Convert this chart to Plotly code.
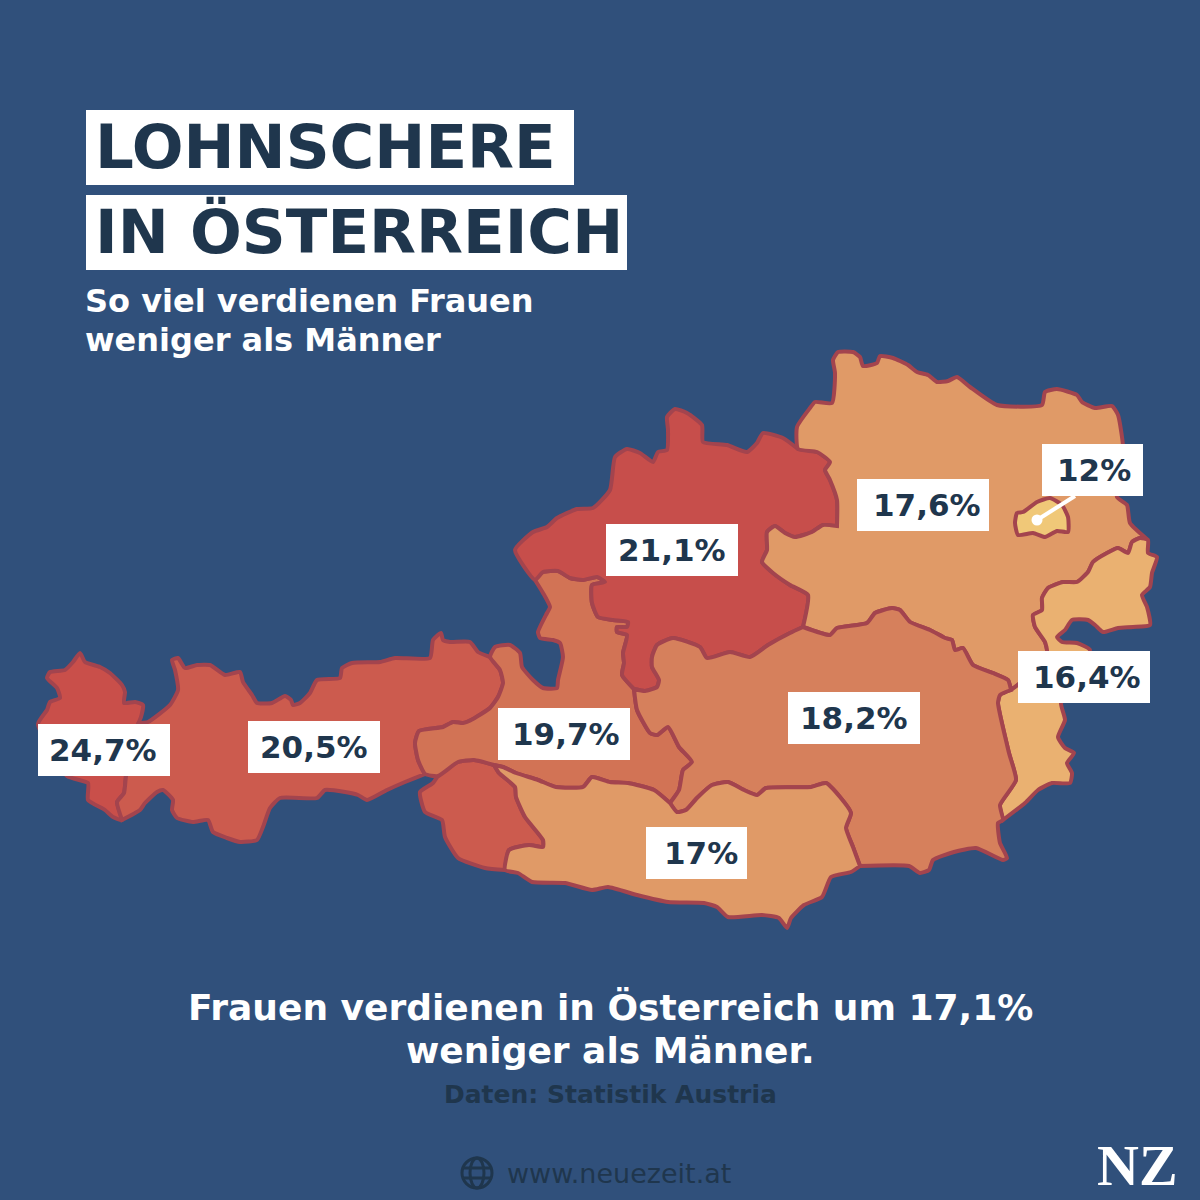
import plotly.graph_objects as go

# map outline pieces (shared borders are used by both states)
vbg_outer = [(122,820),(113,817),(105,810),(88,800),(88,783),(67,776),(38,724),(47,710),(50,702),(60,698),(57,688),(47,678),(50,672),(65,670),(73,662),(80,653),(85,662),(100,667),(110,673),(122,685),(125,692),(124,703),(135,702),(143,705),(141,717),(138,724)]
vbg_tirol = [(138,724),(133,750),(126,776),(124,793),(117,802),(122,820)]
tirol_north = [(138,724),(148,722),(170,705),(178,690),(175,670),(172,660),(178,658),(185,668),(197,665),(210,665),(225,675),(240,672),(243,682),(252,695),(257,703),(272,703),(285,696),(291,700),(293,705),(300,703),(310,693),(317,680),(340,678),(342,668),(352,663),(380,662),(395,658),(430,658),(433,640),(441,633),(443,640),(450,642),(470,642),(478,652),(490,657)]
tirol_salz = [(490,657),(500,670),(503,683),(498,697),(490,708),(473,719),(463,723),(453,722),(443,727),(419,731),(415,743),(418,760),(425,774)]
tirol_south = [(425,774),(405,782),(387,790),(367,800),(358,795),(345,792),(325,790),(317,798),(280,798),(270,808),(263,827),(257,840),(240,842),(227,838),(213,832),(208,820),(193,822),(177,818),(172,810),(173,800),(163,790),(157,792),(145,803),(140,810),(122,820)]
osttirol_top = [(438,776),(458,762),(474,760),(494,765)]
osttirol_ktn = [(494,765),(499,773),(515,787),(516,797),(525,817),(543,840),(543,847),(529,845),(509,850),(505,870)]
osttirol_south = [(505,870),(485,868),(458,858),(445,837),(442,820),(425,812),(420,792),(433,783),(438,776)]
salz_north = [(490,657),(495,647),(510,645),(520,653),(522,667),(533,680),(543,688),(557,688),(558,680),(563,657),(560,643),(553,640),(540,638),(538,632),(547,613),(550,607),(543,593),(535,580)]
salz_ooe = [(535,580),(543,572),(558,571),(570,578),(583,580),(597,577),(605,582),(592,585),(592,603),(598,617),(613,620),(628,622),(627,627),(617,627),(617,632),(627,635),(623,653),(624,663),(622,675),(634,689)]
salz_stmk = [(634,689),(637,710),(650,733),(657,735),(668,727),(679,747),(692,762),(683,770),(679,790),(670,803)]
salz_ktn = [(670,803),(654,790),(628,783),(610,782),(592,777),(583,787),(556,787),(538,780),(516,773),(503,767),(494,765)]
ooe_north = [(535,580),(515,550),(533,532),(547,527),(557,518),(577,509),(593,508),(610,490),(615,457),(627,449),(640,453),(653,462),(658,452),(667,450),(668,430),(667,417),(675,409),(687,413),(702,425),(703,442),(727,445),(747,452),(757,443),(763,433),(783,438),(798,449)]
ooe_noe_top = [(798,449),(817,452),(830,462),(825,470),(830,480),(837,500),(837,526)]
ooe_noe = [(837,526),(823,525),(812,532),(795,537),(785,533),(775,526),(767,532),(767,550),(762,562),(773,573),(790,585),(808,595),(803,627)]
ooe_stmk = [(803,627),(790,633),(768,645),(750,657),(730,652),(707,658),(700,647),(673,638),(657,645),(652,657),(652,667),(659,680),(657,687),(645,691),(634,689)]
noe_north = [(798,449),(797,427),(810,408),(815,402),(832,403),(835,373),(833,360),(838,352),(853,352),(860,357),(863,366),(877,363),(880,356),(893,358),(908,365),(917,372),(928,375),(937,382),(948,381),(957,377),(970,387),(997,405),(1042,405),(1045,392),(1057,389),(1077,395),(1082,402),(1095,408),(1112,406),(1118,415),(1122,437),(1123,447),(1117,497),(1127,505),(1130,523),(1148,540)]
noe_bgld = [(1148,540),(1140,538),(1132,542),(1128,553),(1118,548),(1107,553),(1093,562),(1088,572),(1077,582),(1063,582),(1048,588),(1042,598),(1042,610),(1033,615),(1035,627),(1045,642),(1047,652),(1030,675),(1011,690)]
noe_stmk = [(1011,690),(1008,680),(993,673),(973,665),(963,648),(955,650),(952,640),(945,638),(930,630),(910,622),(900,610),(892,608),(875,613),(867,623),(837,628),(830,635),(803,627)]
bgld_outer = [(1148,540),(1148,553),(1157,557),(1152,573),(1150,587),(1142,595),(1147,607),(1150,625),(1133,627),(1118,628),(1103,632),(1095,625),(1088,620),(1072,620),(1065,630),(1057,637),(1062,642),(1077,643),(1090,650),(1075,680),(1061,703),(1065,720),(1058,737),(1065,748),(1074,753),(1067,763),(1072,773),(1070,783),(1052,783),(1038,790),(1025,803),(1003,820)]
bgld_stmk = [(1003,820),(1000,805),(1016,780),(1009,753),(998,703),(1000,695),(1011,690)]
stmk_south = [(1003,820),(998,823),(1000,843),(1007,858),(1003,860),(976,848),(954,852),(933,860),(929,870),(920,873),(909,866),(860,866)]
stmk_ktn = [(860,866),(853,847),(846,828),(851,813),(840,797),(826,783),(811,787),(766,788),(757,795),(744,790),(728,782),(712,785),(697,798),(686,810),(677,812),(670,803)]
ktn_south = [(505,870),(518,873),(532,882),(565,883),(592,890),(608,887),(637,895),(668,902),(704,903),(717,907),(728,917),(762,915),(779,918),(787,928),(791,918),(804,905),(822,897),(831,877),(851,872),(860,866)]
wien_outline = [(1017,513),(1023,512),(1037,502),(1050,498),(1062,505),(1068,517),(1068,532),(1057,531),(1045,537),(1033,533),(1018,535),(1015,523),(1017,513)]

states = {
    "Vorarlberg": vbg_outer + vbg_tirol,
    "Tirol": tirol_north + tirol_salz + tirol_south + vbg_tirol[::-1],
    "Osttirol": osttirol_top + osttirol_ktn + osttirol_south,
    "Salzburg": salz_north + salz_ooe + salz_stmk + salz_ktn + osttirol_top[::-1] + tirol_salz[::-1],
    "Oberösterreich": ooe_north + ooe_noe_top + ooe_noe + ooe_stmk + salz_ooe[::-1],
    "Niederösterreich": noe_north + noe_bgld + noe_stmk + ooe_noe[::-1] + ooe_noe_top[::-1],
    "Burgenland": bgld_outer + bgld_stmk + noe_bgld[::-1],
    "Steiermark": stmk_south + stmk_ktn + salz_stmk[::-1] + ooe_stmk[::-1] + noe_stmk[::-1] + bgld_stmk[::-1],
    "Kärnten": osttirol_ktn[::-1] + salz_ktn[::-1] + stmk_ktn[::-1] + ktn_south[::-1],
    "Wien": wien_outline,
}
state_colors = {
    "Vorarlberg": "#C94F4A", "Tirol": "#CC5B4E", "Osttirol": "#CC5B4E", "Salzburg": "#D27355",
    "Oberösterreich": "#C74E4B", "Niederösterreich": "#E09A67", "Burgenland": "#EAB171",
    "Steiermark": "#D6805C", "Kärnten": "#E09A67", "Wien": "#F0C878",
}

# labels: text, text centre, white box
label_text = ["24,7%", "20,5%", "21,1%", "19,7%", "18,2%", "17,6%", "12%", "16,4%", "17%"]
label_x = [103, 314, 672, 566, 854, 927, 1094, 1087, 701]
label_y = [750, 747, 550, 734, 718, 505, 470, 677, 853]
box_x0 = [38, 248, 606, 498, 788, 857, 1042, 1018, 646]
box_x1 = [170, 380, 738, 630, 920, 989, 1143, 1150, 747]
box_y0 = [724, 721, 524, 708, 692, 479, 444, 651, 827]
box_y1 = [776, 773, 576, 760, 744, 531, 496, 703, 879]

BG = "#30507B"
DARK = "#1F364D"
BORDER = "#A3444E"
FONT = "DejaVu Sans"

fig = go.Figure()
for name, pts in states.items():
    fig.add_trace(go.Scatter(
        x=[p[0] for p in pts], y=[p[1] for p in pts], mode="lines", fill="toself",
        fillcolor=state_colors[name], line=dict(color=BORDER, width=4, shape="spline", smoothing=0.5),
        hoverinfo="skip", showlegend=False, name=name,
    ))

# leader from Wien to its label
fig.add_trace(go.Scatter(x=[1037, 1075], y=[520, 496], mode="lines", line=dict(color="white", width=4),
                         hoverinfo="skip", showlegend=False))
fig.add_trace(go.Scatter(x=[1037], y=[520], mode="markers", marker=dict(color="white", size=11),
                         hoverinfo="skip", showlegend=False))

shapes = [
    dict(type="rect", x0=86, x1=574, y0=110, y1=185, fillcolor="white", line_width=0, layer="above"),
    dict(type="rect", x0=86, x1=627, y0=195, y1=270, fillcolor="white", line_width=0, layer="above"),
]
for a, b, c, d in zip(box_x0, box_x1, box_y0, box_y1):
    shapes.append(dict(type="rect", x0=a, x1=b, y0=c, y1=d, fillcolor="white", line_width=0, layer="above"))

# globe icon
globe = dict(color=DARK, width=3)
shapes += [
    dict(type="circle", x0=462, x1=492, y0=1158, y1=1188, line=globe),
    dict(type="circle", x0=470, x1=484, y0=1158, y1=1188, line=globe),
    dict(type="line", x0=462, x1=492, y0=1168, y1=1168, line=globe),
    dict(type="line", x0=462, x1=492, y0=1178, y1=1178, line=globe),
]


def put(text, x, y, size, color, anchor="left", family=FONT, weight=700):
    fig.add_annotation(x=x, y=y, text=text, showarrow=False, xanchor=anchor, yanchor="middle",
                       font=dict(family=family, size=size, color=color, weight=weight), align=anchor)


put("LOHNSCHERE", 93, 146, 61, DARK)
put("IN ÖSTERREICH", 93, 231, 61, DARK)
put("So viel verdienen Frauen", 83, 301, 32, "white")
put("weniger als Männer", 83, 340, 32, "white")
for t, x, y in zip(label_text, label_x, label_y):
    put(t, x, y, 31, DARK, anchor="center")
put("Frauen verdienen in Österreich um 17,1%", 610, 1007, 36, "white", anchor="center")
put("weniger als Männer.", 610, 1050, 36, "white", anchor="center")
put("Daten: Statistik Austria", 610, 1094, 25, DARK, anchor="center")
put("www.neuezeit.at", 505, 1173, 27, DARK, weight=400)
put("NZ", 1137, 1165, 58, "white", anchor="center", family="Liberation Serif")

fig.update_layout(
    width=1200, height=1200, margin=dict(l=0, r=0, t=0, b=0),
    paper_bgcolor=BG, plot_bgcolor=BG, shapes=shapes,
    xaxis=dict(range=[0, 1200], visible=False, fixedrange=True),
    yaxis=dict(range=[1200, 0], visible=False, fixedrange=True),
)
fig.write_html("out.html", config={"displayModeBar": False}, post_script="document.body.style.margin='0';")
